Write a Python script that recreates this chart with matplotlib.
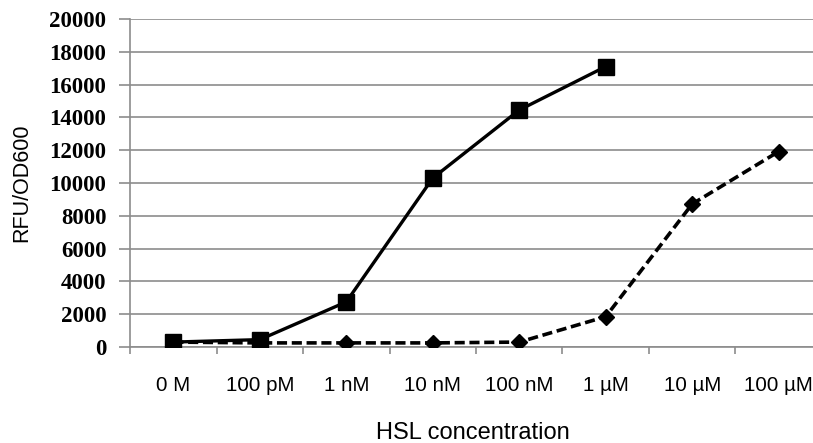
import matplotlib.pyplot as plt
import numpy as np

# ==========================
# Données
# ==========================

concentrations = ["0 M", "100 pM", "1 nM", "10 nM", "100 nM", "1 µM", "10 µM", "100 µM"]

# courbe pleine (carrés) : pas de valeurs au-delà de 1 µM
rfu_squares = [300, 450, 2750, 10300, 14450, 17100]

# courbe pointillée (losanges)
rfu_diamonds = [300, 250, 250, 250, 300, 1850, 8720, 11920]

y_ticks = np.arange(0, 20001, 2000)

# ==========================
# Figure
# ==========================

fig = plt.figure(figsize=(8.13, 4.43), dpi=100)
ax = fig.add_axes([0.16, 0.2167, 0.851, 0.7404])

grey = "#8c8c8c"

x_sq = np.arange(len(rfu_squares))
x_di = np.arange(len(rfu_diamonds))

ax.plot(x_sq, rfu_squares, color="black", linewidth=2.4,
        marker="s", markersize=11, zorder=3)

line, = ax.plot(x_di, rfu_diamonds, color="black", linewidth=2.6,
                marker="D", markersize=8.5, zorder=3)
line.set_dashes((2.8, 1.3))

ax.set_xlim(-0.5, len(concentrations) - 0.5)
ax.set_ylim(0, 20000)

ax.set_yticks(y_ticks)
ax.set_yticklabels([str(v) for v in y_ticks],
                   fontfamily="Liberation Serif", fontweight="bold", fontsize=16.5)

ax.set_xticks(np.arange(len(concentrations)))
ax.set_xticklabels(concentrations, fontfamily="Liberation Sans", fontsize=14.8)
ax.set_xticks(np.arange(len(concentrations) + 1) - 0.5, minor=True)

ax.tick_params(axis="x", which="major", length=0, pad=21)
ax.tick_params(axis="x", which="minor", length=5, color=grey, width=1.2)
ax.tick_params(axis="y", length=8, color=grey, width=1.2, pad=9)

ax.yaxis.grid(True, color=grey, linewidth=1.2)
ax.set_axisbelow(True)

for side in ["top", "right"]:
    ax.spines[side].set_visible(False)
for side in ["left", "bottom"]:
    ax.spines[side].set_color(grey)
    ax.spines[side].set_linewidth(1.2)

fig.text(0.027, 0.2167 + 0.7404 / 2, "RFU/OD600", rotation=90,
         ha="center", va="center", fontfamily="Liberation Sans", fontsize=15.5)
fig.text(0.582, 0.022, "HSL concentration", ha="center", va="center",
         fontfamily="Liberation Sans", fontsize=17)

plt.savefig("out.png", dpi=100)
